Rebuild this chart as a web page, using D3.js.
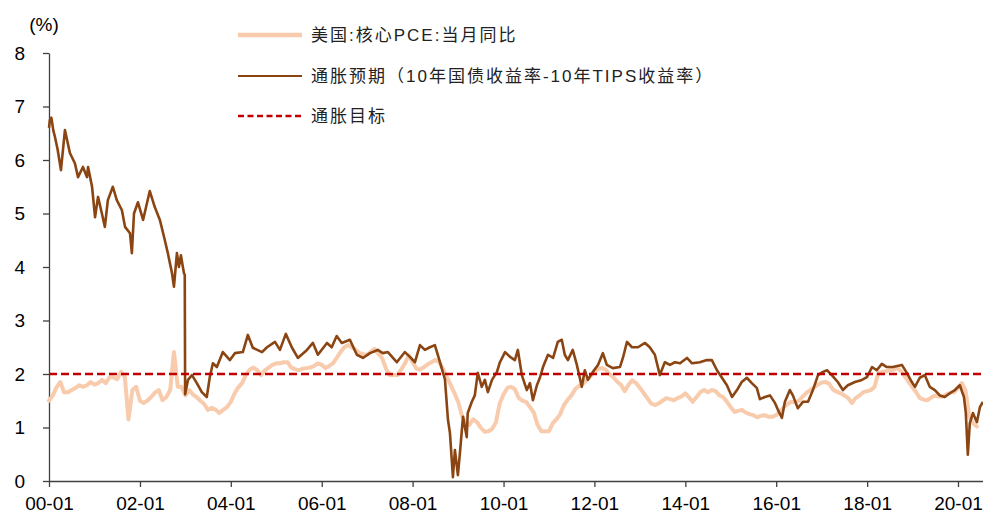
<!DOCTYPE html>
<html>
<head>
<meta charset="utf-8">
<script src="https://cdn.jsdelivr.net/npm/d3@7"></script>
<style>
  html, body { margin: 0; padding: 0; background: #fff; }
  text { font-family: "Liberation Sans", Arial, "Noto Sans CJK SC", sans-serif; }
</style>
</head>
<body>
<svg id="chart" width="983" height="514"></svg>
<script>
// ---------------- DATA ----------------
const seriesNames = ["美国:核心PCE:当月同比", "通胀预期（10年国债收益率-10年TIPS收益率）", "通胀目标"];
const yTicks = [0, 1, 2, 3, 4, 5, 6, 7, 8];
const xTickLabels = ["00-01","02-01","04-01","06-01","08-01","10-01","12-01","14-01","16-01","18-01","20-01"];
const inflationTarget = 2;

// Core PCE YoY, monthly, starting 2000-01
const pceStart = "2000-01";
const pceValues = [
  1.5,1.6,1.75,1.85,1.66,1.66,1.7,1.74,1.79,1.76,1.79,1.85,
  1.8,1.83,1.89,1.83,1.94,1.94,1.9,2.04,1.95,1.15,1.7,1.76,
  1.5,1.46,1.5,1.57,1.65,1.7,1.51,1.57,1.7,2.41,1.76,1.76,
  1.6,1.7,1.62,1.57,1.5,1.44,1.33,1.37,1.33,1.27,1.33,1.38,
  1.48,1.64,1.75,1.83,1.98,2.08,2.12,2.07,1.98,2.07,2.12,2.17,
  2.2,2.2,2.22,2.22,2.12,2.09,2.07,2.1,2.11,2.12,2.15,2.2,
  2.17,2.11,2.15,2.2,2.3,2.41,2.5,2.54,2.5,2.45,2.39,2.37,
  2.36,2.42,2.47,2.38,2.3,2.1,1.98,1.98,1.98,2.08,2.2,2.35,
  2.22,2.1,2.08,2.13,2.18,2.22,2.26,2.22,2.1,1.95,1.8,1.65,
  1.48,1.22,1.1,1.05,1.15,1.1,1.0,0.92,0.93,0.97,1.1,1.45,
  1.62,1.74,1.76,1.72,1.56,1.5,1.48,1.38,1.28,1.05,0.93,0.93,
  0.93,1.08,1.15,1.25,1.42,1.52,1.6,1.72,1.78,1.82,1.89,1.96,
  2.04,2.1,2.11,2.08,2.0,1.94,1.86,1.8,1.68,1.8,1.88,1.83,
  1.74,1.64,1.55,1.45,1.42,1.45,1.5,1.55,1.53,1.51,1.55,1.58,
  1.64,1.56,1.48,1.57,1.66,1.7,1.66,1.7,1.68,1.6,1.57,1.48,
  1.38,1.29,1.31,1.33,1.28,1.25,1.23,1.19,1.22,1.23,1.2,1.2,
  1.23,1.3,1.38,1.44,1.48,1.47,1.5,1.58,1.65,1.7,1.75,1.8,
  1.84,1.85,1.82,1.71,1.67,1.64,1.6,1.55,1.46,1.55,1.6,1.66,
  1.68,1.7,1.76,2.02,2.04,2.05,2.07,2.08,2.11,2.05,1.95,1.85,
  1.75,1.65,1.55,1.52,1.51,1.56,1.6,1.58,1.58,1.62,1.65,1.66,
  1.74,1.83,1.7,1.2,1.08,1.02
];

// Breakeven inflation (10y nominal - 10y TIPS)
const beDates = [
  "2000-01-01","2000-01-08","2000-01-20","2000-02-05","2000-02-18","2000-03-10","2000-04-06","2000-05-08","2000-06-17","2000-07-27",
  "2000-08-21","2000-09-30","2000-11-01","2000-11-10","2000-12-12","2001-01-05","2001-01-29","2001-03-01","2001-03-25","2001-04-18",
  "2001-05-28","2001-06-29","2001-08-09","2001-09-03","2001-10-13","2001-10-28","2001-11-14","2001-12-16","2002-01-26","2002-02-27",
  "2002-03-21","2002-04-30","2002-06-10","2002-07-20","2002-08-13","2002-09-15","2002-10-01","2002-10-25","2002-11-10","2002-11-26",
  "2002-12-20","2002-12-27","2002-12-30","2003-01-22","2003-02-23","2003-04-03","2003-05-13","2003-06-22","2003-07-16","2003-08-10",
  "2003-09-11","2003-10-29","2003-12-25","2004-02-03","2004-04-07","2004-05-17","2004-06-26","2004-09-08","2004-10-18","2004-12-21",
  "2005-01-30","2005-03-18","2005-05-05","2005-06-23","2005-09-04","2005-10-22","2005-12-01","2006-02-12","2006-03-22","2006-05-01",
  "2006-06-11","2006-08-15","2006-10-10","2006-11-28","2007-01-23","2007-03-27","2007-05-06","2007-06-16","2007-08-27","2007-10-31",
  "2007-12-10","2008-01-20","2008-02-29","2008-04-09","2008-05-19","2008-06-28","2008-08-08","2008-09-17","2008-10-11","2008-10-27",
  "2008-11-20","2008-12-06","2008-12-30","2009-01-16","2009-02-09","2009-03-11","2009-03-19","2009-04-21","2009-05-15","2009-06-08",
  "2009-07-10","2009-08-04","2009-08-28","2009-09-30","2009-11-09","2009-12-03","2010-01-13","2010-02-22","2010-04-02","2010-04-26",
  "2010-05-28","2010-07-07","2010-08-01","2010-08-25","2010-09-26","2010-10-20","2010-11-14","2010-12-24","2011-02-03","2011-03-13",
  "2011-04-14","2011-05-08","2011-06-02","2011-07-11","2011-08-13","2011-09-22","2011-10-16","2011-11-10","2011-12-20","2012-01-30",
  "2012-03-09","2012-04-10","2012-05-28","2012-07-24","2012-08-17","2012-09-19","2012-10-29","2012-12-16","2013-02-11","2013-03-21",
  "2013-05-01","2013-06-10","2013-07-20","2013-08-30","2013-10-09","2013-11-19","2014-01-14","2014-02-24","2014-04-27","2014-06-23",
  "2014-08-02","2014-09-12","2014-10-22","2014-12-01","2015-01-11","2015-02-20","2015-03-30","2015-05-10","2015-06-19","2015-07-29",
  "2015-08-23","2015-10-02","2015-11-12","2015-12-22","2016-01-15","2016-02-16","2016-03-11","2016-04-20","2016-05-14","2016-06-23",
  "2016-08-03","2016-09-13","2016-10-22","2016-12-02","2017-01-11","2017-02-13","2017-03-23","2017-05-10","2017-06-20","2017-07-30",
  "2017-09-25","2017-11-20","2017-12-30","2018-02-09","2018-03-19","2018-04-29","2018-06-08","2018-07-26","2018-10-07","2018-11-16",
  "2018-12-26","2019-01-20","2019-02-28","2019-04-09","2019-05-19","2019-06-29","2019-08-08","2019-09-17","2019-10-27","2019-12-07",
  "2020-01-16","2020-02-18","2020-03-04","2020-03-20","2020-04-05","2020-04-30","2020-06-01","2020-06-25","2020-07-19"
];
const beValues = [
  6.6,6.75,6.79,6.55,6.43,6.2,5.81,6.56,6.13,5.94,
  5.68,5.87,5.68,5.87,5.5,4.93,5.31,5.0,4.75,5.25,
  5.5,5.25,5.06,4.75,4.63,4.26,5.0,5.21,4.88,5.2,
  5.42,5.12,4.88,4.5,4.26,3.89,3.63,4.26,4.0,4.22,
  3.89,3.85,1.62,1.89,1.98,1.83,1.66,1.57,1.94,2.2,
  2.13,2.41,2.26,2.39,2.41,2.73,2.49,2.41,2.5,2.6,
  2.45,2.75,2.5,2.3,2.45,2.58,2.36,2.58,2.5,2.71,
  2.58,2.64,2.36,2.3,2.39,2.45,2.39,2.41,2.22,2.41,
  2.32,2.22,2.54,2.45,2.5,2.54,2.22,1.9,1.15,0.9,
  0.07,0.58,0.11,0.54,1.2,0.82,1.27,1.48,1.6,2.02,
  1.76,1.89,1.66,1.89,2.04,2.22,2.41,2.32,2.26,2.45,
  1.98,1.7,1.83,1.51,1.79,1.93,2.13,2.36,2.3,2.6,
  2.64,2.36,2.26,2.45,2.17,1.76,2.07,1.89,2.04,2.17,
  2.39,2.17,2.11,2.13,2.3,2.6,2.5,2.5,2.58,2.5,
  2.36,1.98,2.22,2.17,2.22,2.2,2.3,2.2,2.22,2.26,
  2.26,2.07,1.93,1.79,1.57,1.7,1.85,1.93,1.83,1.74,
  1.53,1.57,1.6,1.46,1.33,1.18,1.48,1.7,1.6,1.36,
  1.48,1.48,1.7,1.98,2.04,2.07,1.98,1.85,1.7,1.79,
  1.85,1.89,1.94,2.13,2.07,2.19,2.13,2.13,2.17,2.02,
  1.85,1.76,1.93,1.98,1.76,1.7,1.6,1.57,1.64,1.7,
  1.79,1.57,1.27,0.49,1.08,1.27,1.1,1.38,1.48
];
const xDomain = ["2000-01-01", "2020-07-20"];

// ---------------- CHART ----------------
const svg = d3.select("#chart");
const parseDay = d3.timeParse("%Y-%m-%d");
const parseMonth = d3.timeParse("%Y-%m");

const x = d3.scaleTime().domain(xDomain.map(parseDay)).range([49, 983]);
const y = d3.scaleLinear().domain([0, 8]).range([481, 53]);

const pceData = pceValues.map((v, i) => ({ d: d3.timeMonth.offset(parseMonth(pceStart), i), v }));
const beData = beDates.map((s, i) => ({ d: parseDay(s), v: beValues[i] }));

const colors = { pce: "#F8CBAD", be: "#8B4513", target: "#C00000" };

// X axis
const xTickDates = xTickLabels.map(s => parseMonth("20" + s));
const xAxis = d3.axisBottom(x)
  .tickValues(xTickDates)
  .tickFormat((d, i) => xTickLabels[i])
  .tickSize(6).tickSizeOuter(0).tickPadding(10);
const gx = svg.append("g").attr("transform", "translate(0,481)").call(xAxis);

// Y axis
const yAxis = d3.axisLeft(y).tickValues(yTicks).tickFormat(d3.format("d"))
  .tickSize(6).tickSizeOuter(0).tickPadding(18);
const gy = svg.append("g").attr("transform", "translate(49,0)").call(yAxis);

[gx, gy].forEach(g => {
  g.selectAll(".domain").attr("stroke", "#404040").attr("stroke-width", 1.3);
  g.selectAll(".tick line").attr("stroke", "#404040").attr("stroke-width", 1.3);
  g.selectAll(".tick text").attr("fill", "#000").style("font-size", "19px")
    .style("font-family", "'Liberation Sans', Arial, sans-serif");
});

svg.append("text").attr("x", 44).attr("y", 31).attr("text-anchor", "middle")
  .style("font-size", "19px").attr("fill", "#000").text("(%)");

// Lines
const line = d3.line().x(d => x(d.d)).y(d => y(d.v));

svg.append("path").datum(pceData).attr("d", line)
  .attr("fill", "none").attr("stroke", colors.pce).attr("stroke-width", 4)
  .attr("stroke-linejoin", "round").attr("stroke-linecap", "round");

svg.append("path").datum(beData).attr("d", line)
  .attr("fill", "none").attr("stroke", colors.be).attr("stroke-width", 2.6)
  .attr("stroke-linejoin", "round");

svg.append("line")
  .attr("x1", x.range()[0]).attr("x2", x.range()[1])
  .attr("y1", y(inflationTarget)).attr("y2", y(inflationTarget))
  .attr("stroke", colors.target).attr("stroke-width", 2.6).attr("stroke-dasharray", "8,4");

// Legend
const legend = [
  { name: seriesNames[0], color: colors.pce, w: 4.5, dash: null, y: 35 },
  { name: seriesNames[1], color: colors.be, w: 2.2, dash: null, y: 76 },
  { name: seriesNames[2], color: colors.target, w: 2.6, dash: "6,3.5", y: 116 }
];
const lg = svg.append("g");
legend.forEach(l => {
  lg.append("line").attr("x1", 238).attr("x2", 302).attr("y1", l.y).attr("y2", l.y)
    .attr("stroke", l.color).attr("stroke-width", l.w).attr("stroke-dasharray", l.dash);
  lg.append("text").attr("x", 311).attr("y", l.y + 6)
    .style("font-size", "17px").style("letter-spacing", "2px").attr("fill", "#222")
    .text(l.name);
});
</script>
</body>
</html>
